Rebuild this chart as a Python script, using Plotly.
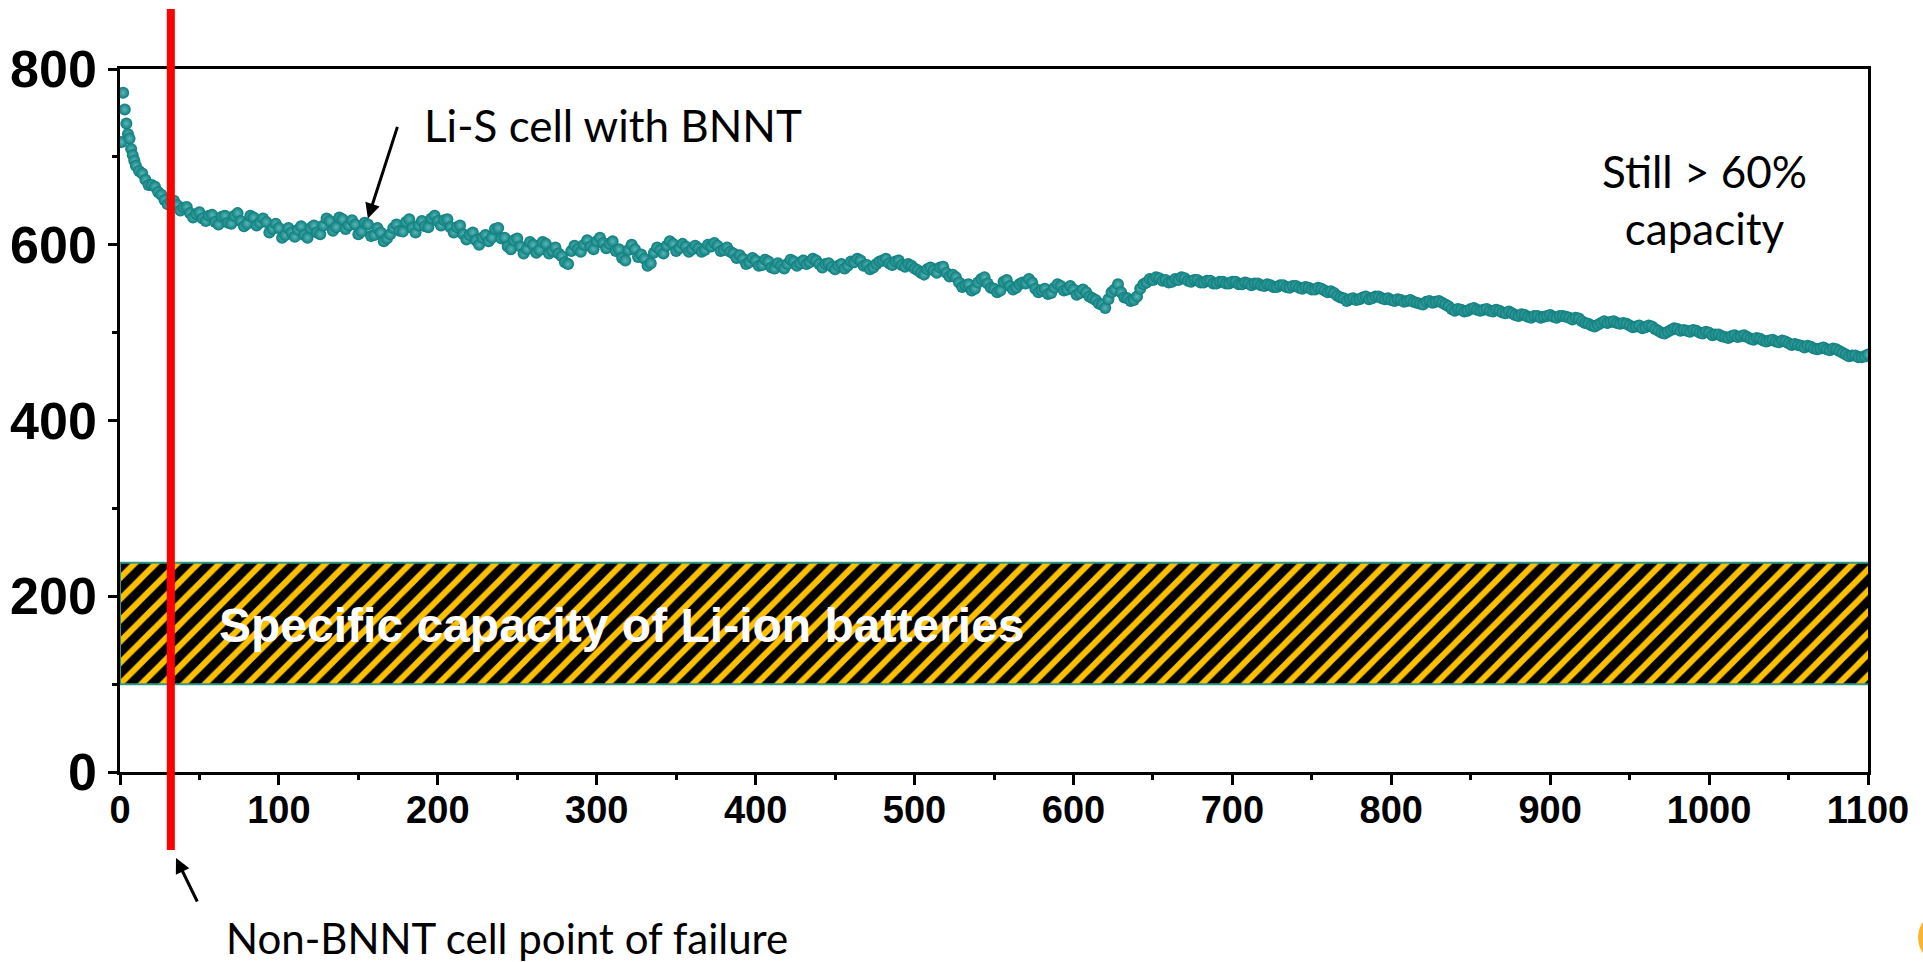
import plotly.graph_objects as go

# ---------------- data ----------------
cycles = list(range(1, 11)) + list(range(12, 1101, 2))

capacity = [
    717, 773, 754, 738, 726, 721, 709, 702, 696, 690,
    # 12 .. 110
    684, 681, 674, 668, 668, 666, 660, 657, 651, 646, 649, 650, 645, 639, 642, 643, 636, 631, 635, 637,
    630, 627, 633, 634, 626, 623, 632, 633, 625, 624, 633, 636, 627, 621, 624, 633, 631, 622, 625, 630,
    626, 614, 618, 624, 619, 608, 611, 619, 614, 609,
    # 112 .. 210
    617, 621, 611, 608, 619, 622, 614, 612, 622, 630, 627, 616, 620, 631, 629, 618, 622, 628, 623, 612,
    615, 625, 623, 610, 611, 619, 614, 604, 607, 612, 619, 623, 616, 615, 626, 629, 619, 614, 622, 627,
    621, 620, 630, 633, 627, 622, 628, 629, 620, 614,
    # 212 .. 310
    620, 622, 612, 606, 611, 614, 605, 600, 608, 611, 604, 608, 618, 619, 607, 608, 598, 595, 605, 607,
    598, 590, 595, 603, 600, 591, 594, 603, 601, 590, 593, 597, 590, 587, 580, 578, 593, 599, 595, 592,
    600, 605, 598, 595, 604, 608, 602, 596, 601, 604,
    # 312 .. 410
    593, 595, 585, 582, 594, 600, 595, 586, 589, 584, 576, 579, 591, 597, 594, 590, 599, 604, 601, 593,
    596, 601, 598, 592, 595, 599, 596, 592, 594, 600, 598, 602, 599, 593, 594, 597, 592, 590, 585, 588,
    584, 578, 580, 585, 582, 576, 577, 583, 581, 574,
    # 412 .. 510
    573, 579, 576, 573, 578, 583, 581, 576, 579, 582, 578, 580, 584, 582, 578, 574, 578, 579, 575, 572,
    576, 578, 573, 576, 581, 580, 584, 582, 576, 577, 572, 574, 578, 581, 582, 584, 579, 577, 581, 582,
    577, 575, 578, 576, 573, 571, 568, 566, 572, 574,
    # 512 .. 610
    571, 568, 574, 575, 568, 564, 566, 563, 557, 552, 554, 555, 548, 550, 557, 561, 563, 556, 551, 550,
    546, 548, 558, 560, 553, 549, 551, 555, 557, 556, 561, 557, 550, 546, 548, 550, 544, 545, 551, 555,
    553, 548, 549, 553, 549, 543, 545, 549, 546, 541,
    # 612 .. 710
    539, 537, 533, 532, 528, 538, 546, 549, 555, 546, 540, 539, 536, 537, 541, 550, 555, 557, 561, 560,
    563, 562, 559, 560, 557, 558, 561, 560, 563, 562, 559, 558, 560, 560, 557, 557, 559, 559, 556, 556,
    558, 558, 556, 556, 558, 558, 555, 555, 557, 556,
    # 712 .. 810
    554, 556, 556, 554, 553, 555, 554, 552, 552, 554, 554, 552, 551, 553, 553, 551, 550, 552, 551, 549,
    549, 551, 550, 548, 546, 547, 545, 542, 540, 539, 536, 538, 539, 537, 538, 540, 541, 538, 539, 541,
    541, 539, 538, 539, 537, 536, 538, 537, 535, 536,
    # 812 .. 910
    537, 535, 534, 533, 532, 535, 536, 534, 535, 536, 534, 532, 530, 527, 525, 527, 526, 524, 525, 527,
    528, 526, 525, 526, 527, 525, 524, 526, 525, 523, 522, 524, 522, 520, 519, 521, 520, 518, 517, 519,
    519, 517, 518, 519, 520, 518, 517, 519, 519, 518,
    # 912 .. 1010
    517, 515, 517, 516, 513, 511, 510, 508, 507, 509, 511, 513, 511, 512, 513, 511, 510, 511, 510, 508,
    506, 507, 508, 505, 506, 508, 507, 504, 502, 500, 499, 501, 503, 505, 504, 502, 503, 502, 501, 503,
    502, 500, 499, 501, 500, 497, 498, 498, 496, 495,
    # 1012 .. 1100
    494, 496, 497, 495, 496, 497, 495, 493, 492, 494, 493, 491, 490, 491, 492, 490, 489, 491, 490, 488,
    486, 487, 486, 485, 483, 485, 484, 482, 481, 482, 483, 481, 480, 482, 481, 479, 477, 475, 473, 474,
    474, 472, 472, 473, 475,
]
assert len(cycles) == len(capacity)

liion_band = [100, 238]          # specific capacity range of Li-ion batteries
liion_band_x = [0, 1103]
failure_cycle = 32               # non-BNNT cell point of failure

x_ticks = list(range(0, 1101, 100))
y_ticks = list(range(0, 801, 200))

# ---------------- layout geometry ----------------
W, H = 1923, 962
ML, MR, MT, MB = 120, 55, 69, 190
PW, PH = W - ML - MR, H - MT - MB


def paper(xpage, ypage):
    return ((xpage - ML) / PW, (H - MB - ypage) / PH)


TEAL = "#0c7d7d"
fig = go.Figure()

# Li-ion band (hatched)
fig.add_trace(go.Scatter(
    x=[liion_band_x[0], liion_band_x[1], liion_band_x[1], liion_band_x[0], liion_band_x[0]],
    y=[liion_band[0], liion_band[0], liion_band[1], liion_band[1], liion_band[0]],
    mode="lines", fill="toself",
    fillcolor="black",
    fillpattern=dict(shape="/", fgcolor="#FFC000", bgcolor="black", size=15, solidity=0.4, fillmode="replace"),
    line=dict(color="#2E9A82", width=2),
    hoverinfo="skip", showlegend=False,
))

# Li-S data
fig.add_trace(go.Scatter(
    x=cycles, y=capacity, mode="markers",
    marker=dict(size=12, color=TEAL, line=dict(width=0),
                gradient=dict(type="radial", color="#5ab6b6")),
    showlegend=False,
))

# red failure line
y_top = paper(0, 9)[1]
y_bot = paper(0, 850)[1]
fig.add_shape(type="line", xref="x", yref="paper", x0=failure_cycle, x1=failure_cycle,
              y0=y_bot, y1=y_top, line=dict(color="#FF0000", width=8), layer="above")

# small orange logo sliver at the bottom-right corner
cx0, cy0 = paper(1918, 911)
cx1, cy1 = paper(1971, 964)
fig.add_shape(type="circle", xref="paper", yref="paper", x0=cx0, x1=cx1, y0=cy1, y1=cy0,
              fillcolor="#F6B634", line=dict(width=0))

ann_font = dict(family="Lato", size=44, color="black")

fig.add_annotation(x=190, y=736, xref="x", yref="y", text="Li-S cell with BNNT",
                   showarrow=False, xanchor="left", yanchor="middle", font=ann_font)
fig.add_annotation(x=156, y=630, xref="x", yref="y", text="", showarrow=True,
                   ax=30, ay=-93, arrowhead=2, arrowsize=1, arrowwidth=3, arrowcolor="black", standoff=0)

fig.add_annotation(x=997, y=651, xref="x", yref="y", text="Still > 60%<br>capacity",
                   showarrow=False, xanchor="center", yanchor="middle", align="center", font=ann_font)

fig.add_annotation(x=61, y=167, xref="x", yref="y", text="Specific capacity of Li-ion batteries",
                   showarrow=False, xanchor="left", yanchor="middle",
                   font=dict(family="Liberation Sans", size=48, color="white", weight="bold"))

px_, py_ = paper(224, 938)
fig.add_annotation(x=px_, y=py_, xref="paper", yref="paper", text="Non-BNNT cell point of failure",
                   showarrow=False, xanchor="left", yanchor="middle",
                   font=dict(family="Lato", size=42, color="black"))
hx, hy = paper(176, 858)
fig.add_annotation(x=hx, y=hy, xref="paper", yref="paper", text="", showarrow=True,
                   ax=22, ay=45, arrowhead=2, arrowsize=1, arrowwidth=3, arrowcolor="black", standoff=0)

axis_common = dict(showgrid=False, zeroline=False, showline=True, linecolor="black", linewidth=2.5,
                   mirror=True, ticks="outside", tickcolor="black", tickwidth=2.5, automargin=False)

fig.update_xaxes(range=[0, 1100], tickvals=x_ticks, ticklen=10, ticklabelstandoff=-7,
                 tickfont=dict(family="Liberation Sans", size=38, color="black", weight="bold"),
                 minor=dict(dtick=50, ticks="outside", ticklen=5, tickwidth=2.5, tickcolor="black"),
                 **axis_common)
fig.update_yaxes(range=[0, 800], tickvals=y_ticks, ticklen=9, ticklabelstandoff=1,
                 tickfont=dict(family="Liberation Sans", size=52, color="black", weight="bold"),
                 minor=dict(dtick=100, ticks="outside", ticklen=5, tickwidth=2.5, tickcolor="black"),
                 **axis_common)

fig.update_layout(width=W, height=H, margin=dict(l=ML, r=MR, t=MT, b=MB, pad=0),
                  plot_bgcolor="white", paper_bgcolor="white", showlegend=False)

fig.write_html("out.html", config={"displayModeBar": False},
               post_script="document.body.style.margin='0';")
